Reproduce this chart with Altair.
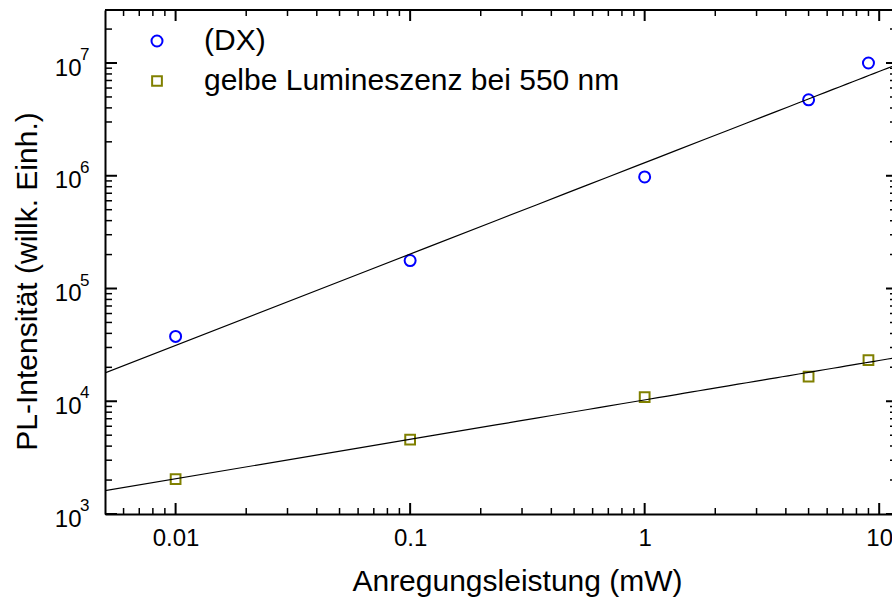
import altair as alt
import pandas as pd

# ---- data ----
power_mw = [0.01, 0.1, 1, 5, 9]
dx_intensity = [3.76e4, 1.77e5, 9.76e5, 4.72e6, 1.0e7]
yellow_intensity = [2.04e3, 4.56e3, 1.09e4, 1.65e4, 2.32e4]
series_names = ["(DX)", "gelbe Lumineszenz bei 550 nm"]
series_colors = ["#0000ff", "#808000"]
series_shapes = ["circle", "square"]

x_major = [0.01, 0.1, 1, 10]
y_major = [1e3, 1e4, 1e5, 1e6, 1e7]
y_exponents = ["3", "4", "5", "6", "7"]

XMIN, XMAX = 0.005, 11.34
YMIN, YMAX = 1e3, 2.953e7
W, H = 787, 504
FONT = "Liberation Sans"

x_minor = [m * 10.0 ** e for e in (-3, -2, -1, 0) for m in range(2, 10)]
x_minor = [v for v in x_minor if XMIN * 1.001 < v < XMAX]
y_minor = [m * 10.0 ** e for e in range(3, 8) for m in range(2, 10)]
y_minor = [v for v in y_minor if YMIN < v < YMAX]

df = pd.DataFrame({
    "P": power_mw * 2,
    "I": dx_intensity + yellow_intensity,
    "series": [series_names[0]] * len(power_mw) + [series_names[1]] * len(power_mw),
})

xs = alt.Scale(type="log", domain=[XMIN, XMAX], nice=False)
ys = alt.Scale(type="log", domain=[YMIN, YMAX], nice=False)

points = alt.Chart(df).mark_point(strokeWidth=2, opacity=1, filled=False, fill="white").encode(
    x=alt.X("P:Q", scale=xs, title="Anregungsleistung (mW)", axis=alt.Axis(
        values=x_major, format="~g", ticks=False, grid=False,
        domainColor="black", domainWidth=2, labelFont=FONT, labelFontSize=24,
        labelColor="black", labelPadding=12, labelFlush=False,
        titleFont=FONT, titleFontSize=30,
        titleFontWeight="normal", titleColor="black", titleX=412, titleY=76,
        titleBaseline="alphabetic", titleAlign="center")),
    y=alt.Y("I:Q", scale=ys, title="PL-Intensität (willk. Einh.)", axis=alt.Axis(
        values=y_major, labelExpr="'10'", ticks=False, grid=False,
        domainColor="black", domainWidth=2, labelFont=FONT, labelFontSize=24,
        labelColor="black", labelPadding=24, labelOffset=5, labelBaseline="middle",
        titleFont=FONT, titleFontSize=30,
        titleFontWeight="normal", titleColor="black", titleX=-69, titleY=271,
        titleAngle=270, titleBaseline="alphabetic", titleAlign="center")),
    color=alt.Color("series:N", scale=alt.Scale(domain=series_names, range=series_colors),
                    legend=alt.Legend(orient="none", legendX=37, legendY=16, title=None,
                                      labelFont=FONT, labelFontSize=30, labelColor="black",
                                      labelLimit=800, symbolSize=115, symbolStrokeWidth=2,
                                      padding=0, rowPadding=10, labelOffset=32)),
    shape=alt.Shape("series:N", scale=alt.Scale(domain=series_names, range=series_shapes)),
    size=alt.Size("series:N", scale=alt.Scale(domain=series_names, range=[121, 95]), legend=None),
)

fit = alt.Chart(df).transform_regression(
    "P", "I", method="pow", groupby=["series"], extent=[XMIN, XMAX]
).mark_line(color="black", strokeWidth=1.2, clip=True).encode(
    x=alt.X("P:Q", scale=xs),
    y=alt.Y("I:Q", scale=ys),
    detail="series:N",
)

exps = alt.Chart(pd.DataFrame({"v": y_major, "e": y_exponents})).mark_text(
    align="left", baseline="alphabetic", font=FONT, fontSize=17, color="black", dy=-3
).encode(y=alt.Y("v:Q", scale=ys), x=alt.value(-25), text="e:N")

xmaj = pd.DataFrame({"v": x_major})
xmin_df = pd.DataFrame({"v": x_minor})
ymaj = pd.DataFrame({"v": y_major})
ymin_df = pd.DataFrame({"v": y_minor})

def xr(d, y1, y2, sw):
    return alt.Chart(d).mark_rule(color="black", strokeWidth=sw).encode(
        x=alt.X("v:Q", scale=xs), y=alt.value(y1), y2=alt.value(y2))

def yr(d, x1, x2, sw):
    return alt.Chart(d).mark_rule(color="black", strokeWidth=sw).encode(
        y=alt.Y("v:Q", scale=ys), x=alt.value(x1), x2=alt.value(x2))

ticks = [
    xr(xmaj, H, H - 11, 2), xr(xmin_df, H, H - 6, 1.5),
    xr(xmaj, 0, 11, 2), xr(xmin_df, 0, 6, 1.5),
    yr(ymaj, 0, 12, 2), yr(ymin_df, 0, 7, 1.5),
    yr(ymaj, W - 6, W + 6, 2), yr(ymin_df, W - 2, W + 6, 1.5),
]

top_line = alt.Chart(pd.DataFrame({"a": [0]})).mark_rule(color="black", strokeWidth=2).encode(
    x=alt.value(0), x2=alt.value(W + 6), y=alt.value(0))

chart = alt.layer(points, fit, exps, top_line, *ticks).properties(
    width=W, height=H,
    padding={"left": 105, "top": 10, "right": 0, "bottom": 84},
    autosize=alt.AutoSizeParams(type="none"),
    background="white",
).configure_view(stroke=None)

chart.save("out.html", embed_options={"renderer": "svg", "actions": False})
